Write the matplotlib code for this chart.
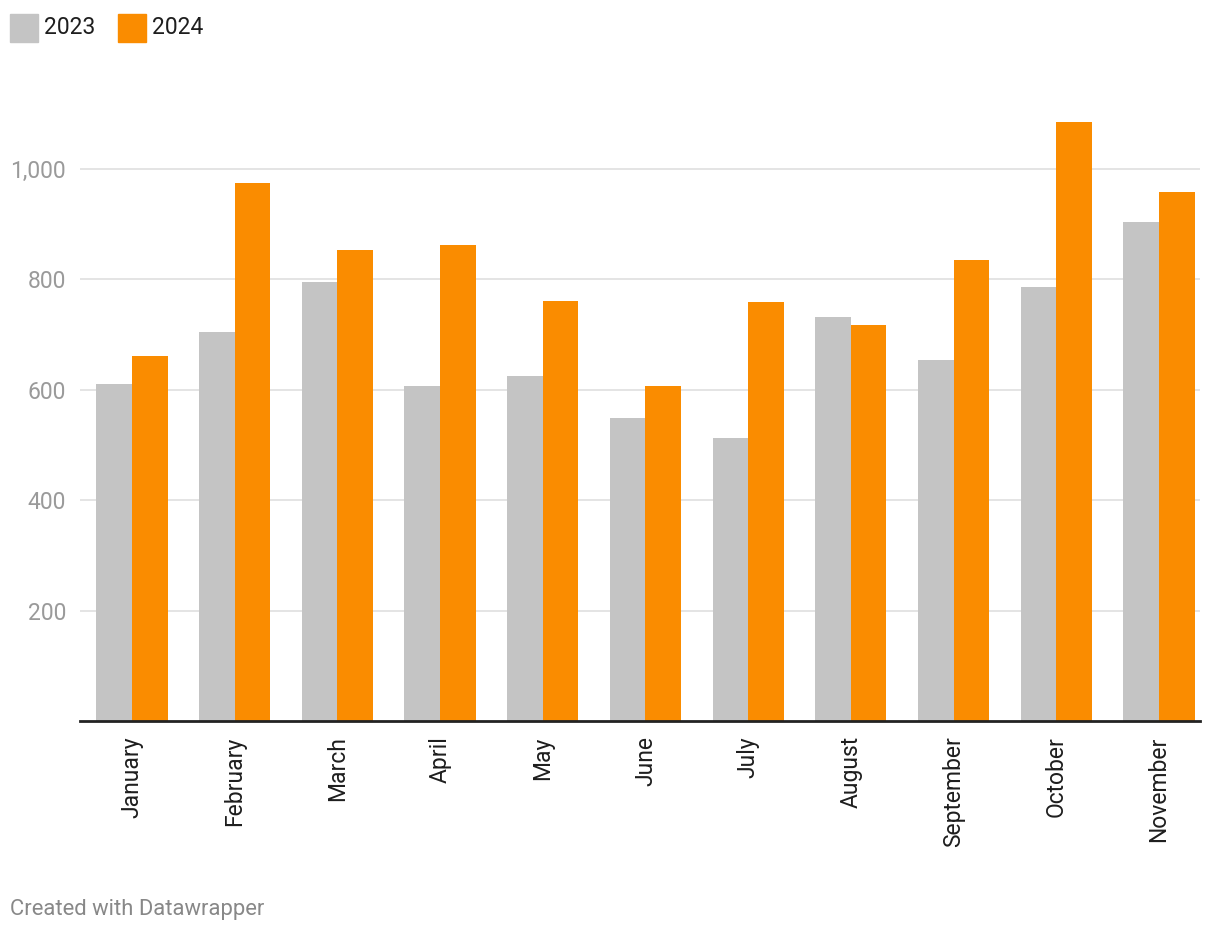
import matplotlib.pyplot as plt
import matplotlib.patches as patches
import numpy as np

plt.rcParams['font.family'] = ['Roboto', 'DejaVu Sans']

months = ["January", "February", "March", "April", "May", "June",
          "July", "August", "September", "October", "November"]
values_2023 = [610, 705, 795, 607, 625, 549, 513, 732, 654, 786, 904]
values_2024 = [661, 975, 853, 862, 761, 607, 759, 717, 835, 1085, 958]
yticks = [200, 400, 600, 800, 1000]

gray = '#c4c4c4'
orange = '#fa8c00'

W, H = 1220, 936
fig = plt.figure(figsize=(W / 100, H / 100), dpi=100)
ax = fig.add_axes([80 / W, (H - 721) / H, 1120 / W, (721 - 113.8) / H])

x = np.arange(len(months))
bw = 0.347
ax.bar(x - bw / 2, values_2023, width=bw, color=gray, zorder=2)
ax.bar(x + bw / 2, values_2024, width=bw, color=orange, zorder=2)

ax.set_xlim(-0.506, len(months) - 1 + 0.40)
ax.set_ylim(0, 1100)

ax.set_yticks(yticks)
ax.set_yticklabels([f"{v:,}" for v in yticks])
ax.yaxis.grid(True, color='#e2e2e2', linewidth=1.3, zorder=0)
ax.tick_params(axis='y', length=0, pad=10, labelsize=16.5, labelcolor='#9a9a9a')

ax.set_xticks(x)
ax.set_xticklabels(months, rotation=90)
ax.tick_params(axis='x', length=0, pad=11, labelsize=16.5, labelcolor='#1e1e1e')

for s in ['top', 'right', 'left']:
    ax.spines[s].set_visible(False)
ax.spines['bottom'].set_color('#222222')
ax.spines['bottom'].set_linewidth(2)
ax.spines['bottom'].set_zorder(3)

# legend
for lx, col, lab in [(10, gray, "2023"), (118, orange, "2024")]:
    fig.patches.append(patches.Rectangle((lx / W, (H - 42) / H), 28 / W, 28 / H,
                                         transform=fig.transFigure, color=col))
    fig.text((lx + 34) / W, (H - 27) / H, lab, fontsize=16.5, color='#1e1e1e',
             va='center', ha='left')

fig.text(10 / W, (H - 910) / H, "Created with Datawrapper", fontsize=15.8,
         color='#888888', va='center', ha='left')

fig.savefig('out.png', dpi=100)
